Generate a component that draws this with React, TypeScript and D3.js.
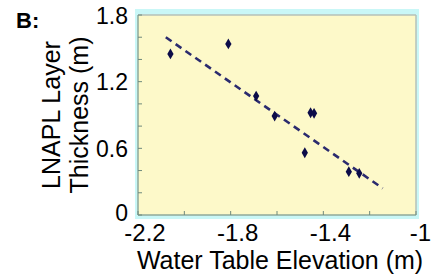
import React from "react";
import * as d3 from "d3";

const elevation = [-2.06, -1.81, -1.69, -1.61, -1.455, -1.44, -1.48, -1.29, -1.245];
const thickness = [1.45, 1.54, 1.07, 0.89, 0.92, 0.915, 0.56, 0.39, 0.375];
const fitX = [-2.08, -1.144];
const fitY = [1.6, 0.24];
const xTickLabels = [-2.2, -1.8, -1.4, -1];
const yTickLabels = [0, 0.6, 1.2, 1.8];
const xMinor = d3.range(-2.2, -0.99, 0.2);
const yMinor = d3.range(0, 1.81, 0.2);

export default function App() {
  const x = d3.scaleLinear().domain([-2.2, -1]).range([138, 416]);
  const y = d3.scaleLinear().domain([0, 1.8]).range([215, 15]);
  const line = d3.line<number>().x((d, i) => x(fitX[i])).y((d, i) => y(fitY[i]));
  const diamond = d3.symbol().type(d3.symbolDiamond).size(34)();
  const font = "'Liberation Sans', Arial, sans-serif";
  return (
    <svg width={432} height={277} style={{ position: "absolute", left: 0, top: 0 }} fontFamily={font}>
      <rect x={0} y={0} width={432} height={277} fill="#ffffff" />
      <rect x={135} y={9} width={284} height={210} fill="#c9f7f7" />
      <rect x={x(-2.2)} y={y(1.8)} width={x(-1) - x(-2.2)} height={y(0) - y(1.8)} fill="#fdf9c9" />
      <line x1={x(-2.2)} x2={x(-1)} y1={y(1.8)} y2={y(1.8)} stroke="#b4c0b8" strokeWidth={1.5} />
      <line x1={x(-1)} x2={x(-1)} y1={y(1.8)} y2={y(0)} stroke="#b4c0b8" strokeWidth={1.5} />
      <line x1={x(-2.2)} x2={x(-2.2)} y1={y(1.8)} y2={y(0)} stroke="#8fa89a" strokeWidth={1.5} />
      <line x1={x(-2.2)} x2={x(-1)} y1={y(0)} y2={y(0)} stroke="#8fa89a" strokeWidth={1.5} />
      {yMinor.map((v, i) => (
        <line key={"yt" + i} x1={x(-2.2)} x2={x(-2.2) + 4} y1={y(v)} y2={y(v)} stroke="#6f8a7c" strokeWidth={1} />
      ))}
      {xMinor.map((v, i) => (
        <line key={"xt" + i} x1={x(v)} x2={x(v)} y1={y(0)} y2={y(0) - 4} stroke="#6f8a7c" strokeWidth={1} />
      ))}
      <path d={line(fitX) || ""} fill="none" stroke="#2b2b6e" strokeWidth={2.6} strokeDasharray="7,5" />
      {elevation.map((v, i) => (
        <path key={"p" + i} d={diamond || ""} transform={`translate(${x(v)},${y(thickness[i])})`} fill="#0c0c48" />
      ))}
      {yTickLabels.map((v, i) => (
        <text key={"yl" + i} x={128} y={y(v) + (v === 0 ? 6 : 8.5)} fontSize={23} textAnchor="end" fill="#000">
          {String(v)}
        </text>
      ))}
      {xTickLabels.map((v, i) => (
        <text
          key={"xl" + i}
          x={v === -1 ? 431 : x(v) + 7}
          y={241}
          fontSize={24}
          textAnchor={v === -1 ? "end" : "middle"}
          fill="#000"
        >
          {String(v)}
        </text>
      ))}
      <text x={280} y={269} fontSize={25} textAnchor="middle" fill="#000">Water Table Elevation (m)</text>
      <text transform="translate(60,115) rotate(-90)" fontSize={25} textAnchor="middle" fill="#000">LNAPL Layer</text>
      <text transform="translate(88,115) rotate(-90)" fontSize={25} textAnchor="middle" fill="#000">Thickness (m)</text>
      <text x={16} y={28} fontSize={22} fontWeight="bold" fill="#000">B:</text>
    </svg>
  );
}
